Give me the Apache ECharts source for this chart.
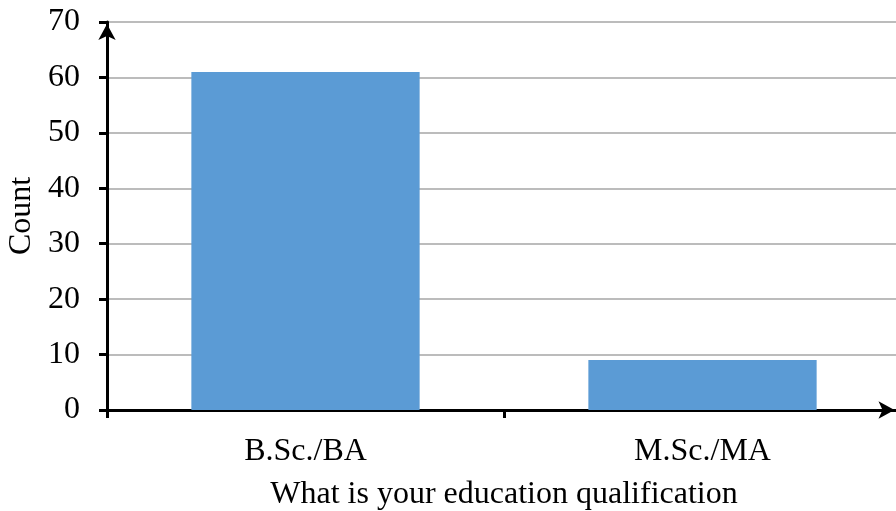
<!DOCTYPE html>
<html>
<head>
<meta charset="utf-8">
<script src="https://cdn.jsdelivr.net/npm/echarts@6/dist/echarts.min.js"></script>
<style>html,body{margin:0;padding:0;background:#fff;}#c{width:896px;height:511px;}</style>
</head>
<body>
<div id="c"></div>
<script>
const categories = ["B.Sc./BA", "M.Sc./MA"];
const counts = [61, 9];
const yAxisName = "Count";
const xAxisName = "What is your education qualification";

const font = "'Liberation Serif', 'Times New Roman', serif";
const chart = echarts.init(document.getElementById('c'), null, {renderer: 'canvas'});
chart.setOption({
  animation: false,
  backgroundColor: '#fff',
  grid: {left: 107, right: -5, top: 22, bottom: 101, containLabel: false, outerBoundsMode: 'none'},
  xAxis: {
    type: 'category',
    data: categories,
    name: xAxisName,
    nameLocation: 'middle',
    nameGap: 69,
    nameTextStyle: {fontFamily: font, fontSize: 32, color: '#000'},
    axisLine: {show: true, lineStyle: {color: '#000', width: 3}, symbol: ['none', 'arrow'], symbolSize: [13, 16], symbolOffset: [0, -6.5]},
    axisTick: {show: true, length: 8, lineStyle: {color: '#000', width: 3}},
    axisLabel: {fontFamily: font, fontSize: 32, color: '#000', margin: 26},
    splitLine: {show: false}
  },
  yAxis: {
    type: 'value',
    min: 0, max: 70, interval: 10,
    name: yAxisName,
    nameLocation: 'middle',
    nameGap: 68,
    nameTextStyle: {fontFamily: font, fontSize: 32, color: '#000'},
    axisLine: {show: true, lineStyle: {color: '#000', width: 3}, symbol: ['none', 'arrow'], symbolSize: [13, 16], symbolOffset: [0, -2]},
    axisTick: {show: true, length: 8, lineStyle: {color: '#000', width: 3}},
    axisLabel: {fontFamily: font, fontSize: 32, color: '#000', margin: 27},
    splitLine: {show: true, lineStyle: {color: '#a6a6a6', width: 1.5}}
  },
  series: [{
    type: 'bar',
    data: counts,
    barWidth: '57.5%',
    itemStyle: {color: '#5b9bd5'}
  }]
});
</script>
</body>
</html>
